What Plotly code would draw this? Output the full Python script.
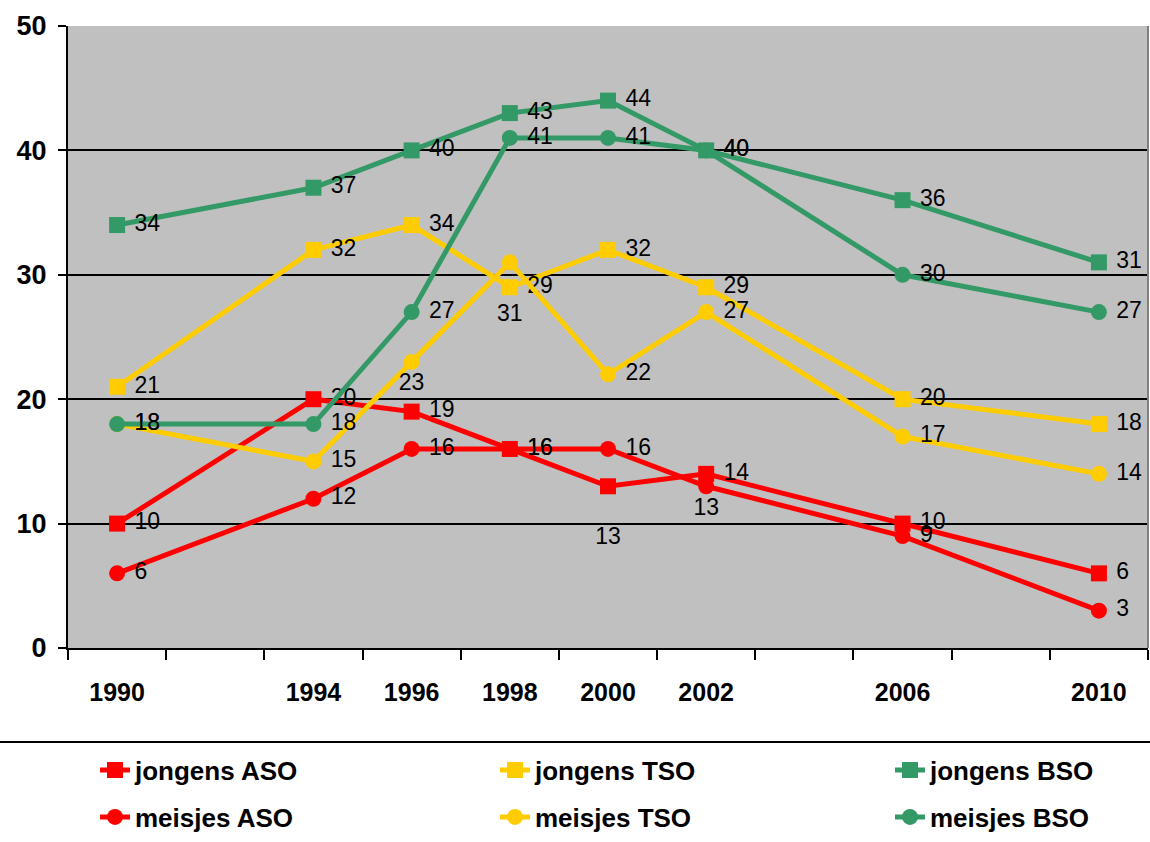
import plotly.graph_objects as go

years = [1990, 1994, 1996, 1998, 2000, 2002, 2006, 2010]
year_labels = ["1990", "1994", "1996", "1998", "2000", "2002", "2006", "2010"]

jongens_aso = [10, 20, 19, 16, 13, 14, 10, 6]
jongens_tso = [21, 32, 34, 29, 32, 29, 20, 18]
jongens_bso = [34, 37, 40, 43, 44, 40, 36, 31]
meisjes_aso = [6, 12, 16, 16, 16, 13, 9, 3]
meisjes_tso = [18, 15, 23, 31, 22, 27, 17, 14]
meisjes_bso = [18, 18, 27, 41, 41, 40, 30, 27]

RED = "#FF0000"
YEL = "#FFCC00"
GRN = "#339966"

R = "middle right"   # label right of the point
B = "bottom center"  # label just below the point
BB = "far below"     # label well below the point

series = [
    ("jongens ASO", jongens_aso, RED, "square", [R, R, R, R, BB, R, R, R]),
    ("jongens TSO", jongens_tso, YEL, "square", [R] * 8),
    ("jongens BSO", jongens_bso, GRN, "square", [R] * 8),
    ("meisjes ASO", meisjes_aso, RED, "circle", [R, R, R, R, R, B, R, R]),
    ("meisjes TSO", meisjes_tso, YEL, "circle", [R, R, B, BB, R, R, R, R]),
    ("meisjes BSO", meisjes_bso, GRN, "circle", [R] * 8),
]


def label(v, p):
    if p == R:
        return f" {v}"
    if p == BB:
        return f" <br>{v}"
    return str(v)


W, H = 1150, 842
ML, MR, MT, MB = 68, 2, 26, 194
PW, PH = W - ML - MR, H - MT - MB

leg_cols_px = [95, 495, 890]
leg_rows_px = [770, 817]

font_leg = dict(family="Liberation Sans, Arial", size=26, color="black", weight="bold")

fig = go.Figure()
legends = {}
for i, (name, vals, col, sym, pos) in enumerate(series):
    key = "legend" if i == 0 else f"legend{i + 1}"
    r, c = divmod(i, 3)
    legends[key] = dict(
        orientation="v",
        x=(leg_cols_px[c] - ML) / PW, xanchor="left",
        y=-(leg_rows_px[r] - (MT + PH)) / PH, yanchor="middle",
        font=font_leg, bgcolor="rgba(0,0,0,0)",
    )
    fig.add_trace(go.Scatter(
        x=years, y=vals, name=name, legend=key,
        mode="lines+markers+text",
        line=dict(color=col, width=5),
        marker=dict(symbol=sym, size=16, color=col),
        text=[label(v, p) for v, p in zip(vals, pos)],
        textposition=[R if p == R else B for p in pos],
        textfont=dict(family="Liberation Sans, Arial", size=23, color="black"),
        cliponaxis=False,
    ))

fig.update_layout(
    width=W, height=H,
    margin=dict(l=ML, r=MR, t=MT, b=MB, autoexpand=False),
    paper_bgcolor="white",
    plot_bgcolor="#C0C0C0",
    font=dict(family="Liberation Sans, Arial", color="black"),
    xaxis=dict(
        range=[1989, 2011], tickmode="linear", tick0=1989, dtick=2,
        showticklabels=False, ticks="outside", ticklen=10, tickwidth=2, tickcolor="black",
        showgrid=False, zeroline=False, showline=True, linecolor="black", linewidth=2,
    ),
    xaxis2=dict(
        range=[1989, 2011], overlaying="x", anchor="y", side="bottom",
        tickmode="array", tickvals=years, ticktext=year_labels, ticks="",
        tickfont=dict(family="Liberation Sans, Arial", size=25, color="black", weight="bold"),
        ticklabelstandoff=27,
        showgrid=False, zeroline=False, showline=False,
    ),
    yaxis=dict(
        range=[0, 50], tickmode="linear", tick0=0, dtick=10,
        ticks="outside", ticklen=8, tickwidth=2, tickcolor="black",
        tickfont=dict(family="Liberation Sans, Arial", size=27, color="black", weight="bold"),
        ticklabelstandoff=6,
        showgrid=True, gridcolor="black", gridwidth=2,
        zeroline=False, showline=True, linecolor="black", linewidth=2,
    ),
    shapes=[
        dict(type="line", xref="paper", yref="paper",
             x0=-ML / PW, x1=1 + MR / PW, y0=-(742 - (MT + PH)) / PH, y1=-(742 - (MT + PH)) / PH,
             line=dict(color="black", width=2)),
        dict(type="line", xref="paper", yref="paper",
             x0=1, x1=1, y0=0, y1=1, line=dict(color="#808080", width=2)),
    ],
    **legends,
)

# helper trace so that the label axis (xaxis2) is drawn
fig.add_trace(go.Scatter(x=[years[0]], y=[None], xaxis="x2", showlegend=False, hoverinfo="skip"))

fig.write_html("out.html", config={"displayModeBar": False},
               post_script="document.body.style.margin='0px';")
